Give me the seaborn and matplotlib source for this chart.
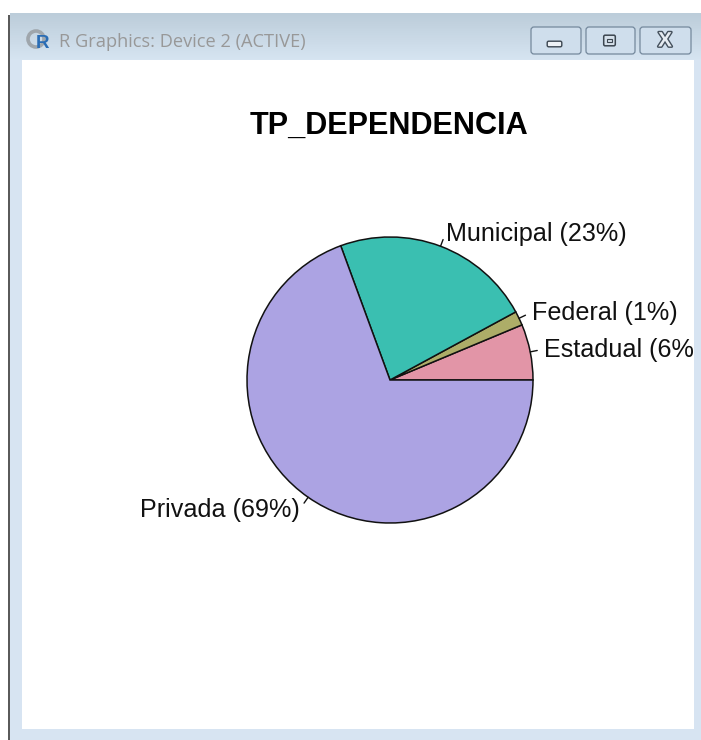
import numpy as np
import matplotlib
matplotlib.use("Agg")
import matplotlib.pyplot as plt
import matplotlib.patheffects as pe
from matplotlib.colors import LinearSegmentedColormap
from matplotlib.patches import Rectangle, FancyBboxPatch, Circle
import seaborn as sns

# =========================
# Data
# =========================
categories = ["Estadual", "Federal", "Municipal", "Privada"]
percent_labels = ["6%", "1%", "23%", "69%"]
shares = [6.3, 1.6, 22.7, 69.4]
slice_colors = ["#E295A7", "#ADAD68", "#3ABFB1", "#ACA3E3"]
chart_title = "TP_DEPENDENCIA"
window_title = "R Graphics: Device 2 (ACTIVE)"

# =========================
# Setup
# =========================
sns.set_theme(style="white")
plt.rcParams["font.family"] = ["Liberation Sans", "DejaVu Sans"]
palette = sns.color_palette(slice_colors)

W, H = 701, 740
fig = plt.figure(figsize=(W / 100, H / 100), dpi=100, facecolor="white")
ax = fig.add_axes([0, 0, 1, 1])


def flip(y):
    # screenshot rows to axes coordinates
    return H - y


# =========================
# Pie
# =========================
cx, cy, radius = 390, flip(380), 143
wedges, _ = ax.pie(
    shares,
    colors=palette,
    center=(cx, cy),
    radius=radius,
    startangle=0,
    counterclock=True,
    wedgeprops=dict(edgecolor="#111111", linewidth=1.1),
)

for wedge, cat, pct in zip(wedges, categories, percent_labels):
    mid = np.deg2rad((wedge.theta1 + wedge.theta2) / 2)
    ux, uy = np.cos(mid), np.sin(mid)
    ax.plot(
        [cx + radius * ux, cx + 1.05 * radius * ux],
        [cy + radius * uy, cy + 1.05 * radius * uy],
        color="#111111", lw=1.0, zorder=3,
    )
    ax.text(
        cx + 1.1 * radius * ux, cy + 1.1 * radius * uy - 1,
        f"{cat} ({pct})",
        ha="left" if ux > 0 else "right", va="center",
        fontsize=18.1, color="#111111", zorder=3,
    )

ax.text(388.5, flip(125.5), chart_title, ha="center", va="center",
        fontsize=22.1, fontweight="bold", color="black")

# =========================
# Window frame, drawn over the plot so long labels get cut off
# =========================
frame_color = "#D7E4F2"
ax.add_patch(Rectangle((10, 0), 12, flip(60), fc=frame_color, ec="none", zorder=5))
ax.add_patch(Rectangle((694, 0), 7, flip(60), fc=frame_color, ec="none", zorder=5))
ax.add_patch(Rectangle((10, 0), 691, flip(729), fc=frame_color, ec="none", zorder=5))

# title bar gradient
ax.imshow(
    np.linspace(0, 1, 47).reshape(-1, 1),
    extent=(10, W, flip(60), flip(13)),
    cmap=LinearSegmentedColormap.from_list("bar", ["#BCCDDA", "#D6E4F1"]),
    aspect="auto", origin="upper", zorder=6,
)

# dark window edge on the left
ax.add_patch(Rectangle((7.5, 0), 2.5, flip(15), fc="#5a5a5a", ec="none", zorder=7))

# R icon
ax.add_patch(Circle((36, flip(39)), 8, fc="none", ec="#9fa6ac", lw=2.6, zorder=7))
ax.text(42.5, flip(43), "R", ha="center", va="center", fontsize=13.5, fontweight="bold",
        color="#2a6db5", zorder=8)

ax.text(59, flip(42), window_title, ha="left", va="center", family="Open Sans",
        fontsize=13.15, color="#989898", zorder=8)

# window buttons
for x0, x1 in [(531, 581), (586, 635), (640, 691)]:
    ax.add_patch(FancyBboxPatch(
        (x0 + 2, flip(54) + 2), x1 - x0 - 4, 23,
        boxstyle="round,pad=2,rounding_size=3",
        fc="#CFDEEC", ec="#74889C", lw=0.9, zorder=7,
    ))

ax.add_patch(FancyBboxPatch((548, flip(46)), 13, 4, boxstyle="round,pad=0.8,rounding_size=1.5",
                            fc="#EEF2F6", ec="#3c4650", lw=1.0, zorder=8))
ax.add_patch(FancyBboxPatch((604.5, flip(45)), 10, 9, boxstyle="round,pad=0.8,rounding_size=1.5",
                            fc="#D5E0EA", ec="#3c4650", lw=1.1, zorder=8))
ax.add_patch(Rectangle((607, flip(42)), 5, 3, fc="#D5E0EA", ec="#3c4650", lw=0.8, zorder=9))
ax.text(665, flip(41), "X", ha="center", va="center", fontsize=15, fontweight="bold",
        color="#E6ECF2", zorder=8,
        path_effects=[pe.withStroke(linewidth=2.0, foreground="#44505c")])

ax.set_xlim(0, W)
ax.set_ylim(0, H)
ax.set_aspect("auto")
ax.axis("off")

fig.savefig("out.png", dpi=100)
